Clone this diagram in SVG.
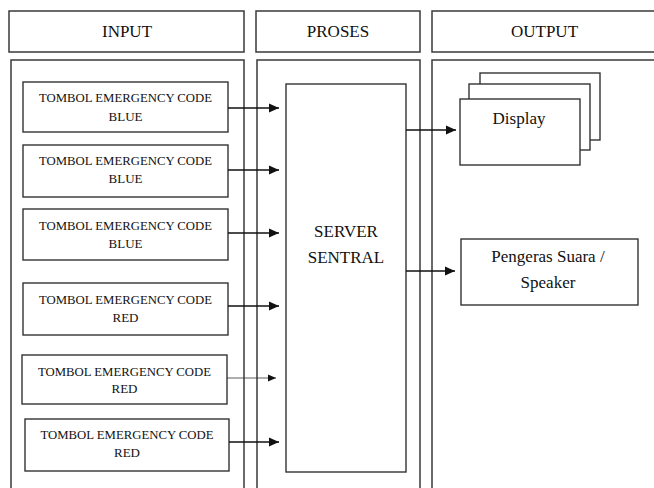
<svg xmlns="http://www.w3.org/2000/svg" width="654" height="488" viewBox="0 0 654 488">
<style>
.frame{fill:#fff;stroke:#3a3a3a;stroke-width:1.5}
.box{fill:#fff;stroke:#333;stroke-width:1.4}
.t{font-family:"Liberation Serif","Times New Roman",serif;fill:#111;text-anchor:middle}
.h{font-size:17px}
.s{font-size:13px}
.b{font-size:17px}
.c{stroke:#111;stroke-width:1.6;fill:none}
.thin{stroke:#333;stroke-width:0.8;fill:none}
</style>
<defs>
<marker id="ah" markerUnits="userSpaceOnUse" markerWidth="12" markerHeight="12" refX="10" refY="6" orient="auto"><path d="M0,1.5 L10,6 L0,10.5 Z" fill="#111"/></marker>
<marker id="ahs" markerUnits="userSpaceOnUse" markerWidth="10" markerHeight="10" refX="8" refY="5" orient="auto"><path d="M0,1.5 L8,5 L0,8.5 Z" fill="#111"/></marker>
</defs>
<g id="col-input">
<rect class="frame" x="9" y="11" width="235" height="41"/>
<text class="t h" x="127" y="37">INPUT</text>
<rect class="frame" x="11" y="60" width="233" height="440"/>
</g>
<g id="col-proses">
<rect class="frame" x="256" y="11" width="164" height="41"/>
<text class="t h" x="338" y="37">PROSES</text>
<rect class="frame" x="257" y="60" width="163" height="440"/>
</g>
<g id="col-output">
<rect class="frame" x="432" y="11" width="226" height="41"/>
<text class="t h" x="544.5" y="37">OUTPUT</text>
<rect class="frame" x="432" y="60" width="230" height="440"/>
</g>
<g id="btn1"><rect class="box" x="23" y="82" width="205" height="50"/>
<text class="t s" x="125.5" y="102" textLength="173" lengthAdjust="spacingAndGlyphs">TOMBOL EMERGENCY CODE</text><text class="t s" x="125.5" y="121">BLUE</text></g>
<g id="btn2"><rect class="box" x="23" y="145" width="205" height="52"/>
<text class="t s" x="125.5" y="165" textLength="173" lengthAdjust="spacingAndGlyphs">TOMBOL EMERGENCY CODE</text><text class="t s" x="125.5" y="183">BLUE</text></g>
<g id="btn3"><rect class="box" x="23" y="209" width="205" height="51"/>
<text class="t s" x="125.5" y="230" textLength="173" lengthAdjust="spacingAndGlyphs">TOMBOL EMERGENCY CODE</text><text class="t s" x="125.5" y="248">BLUE</text></g>
<g id="btn4"><rect class="box" x="23" y="283" width="205" height="52"/>
<text class="t s" x="125.5" y="304" textLength="173" lengthAdjust="spacingAndGlyphs">TOMBOL EMERGENCY CODE</text><text class="t s" x="125.5" y="322">RED</text></g>
<g id="btn5"><rect class="box" x="22" y="355" width="205" height="49"/>
<text class="t s" x="124.5" y="376" textLength="173" lengthAdjust="spacingAndGlyphs">TOMBOL EMERGENCY CODE</text><text class="t s" x="124.5" y="393">RED</text></g>
<g id="btn6"><rect class="box" x="25" y="419" width="204" height="52"/>
<text class="t s" x="127" y="439" textLength="173" lengthAdjust="spacingAndGlyphs">TOMBOL EMERGENCY CODE</text><text class="t s" x="127" y="457">RED</text></g>
<g id="server"><rect class="box" x="286" y="84" width="120" height="388"/>
<text class="t b" x="346" y="237">SERVER</text><text class="t b" x="346" y="263">SENTRAL</text></g>
<g id="display">
<rect class="box" x="480" y="73" width="120" height="67"/>
<rect class="box" x="469" y="84" width="121" height="66"/>
<rect class="box" x="460" y="99" width="120" height="66"/>
<text class="t b" x="519" y="124">Display</text>
</g>
<g id="speaker"><rect class="box" x="461" y="239" width="177" height="66"/>
<text class="t b" x="548" y="262">Pengeras Suara /</text><text class="t b" x="548" y="288">Speaker</text></g>
<g id="connectors">
<line class="c" x1="228" y1="108" x2="279" y2="108" marker-end="url(#ah)"/>
<line class="c" x1="228" y1="170" x2="279" y2="170" marker-end="url(#ah)"/>
<line class="c" x1="228" y1="233" x2="279" y2="233" marker-end="url(#ah)"/>
<line class="c" x1="228" y1="306" x2="279" y2="306" marker-end="url(#ah)"/>
<line class="thin" x1="227" y1="378" x2="276" y2="378" marker-end="url(#ahs)"/>
<line class="c" x1="229" y1="442" x2="279" y2="442" marker-end="url(#ah)"/>
<line class="c" x1="406" y1="130" x2="456" y2="130" marker-end="url(#ah)"/>
<line class="c" x1="406" y1="271" x2="455" y2="271" marker-end="url(#ah)"/>
</g>
</svg>
